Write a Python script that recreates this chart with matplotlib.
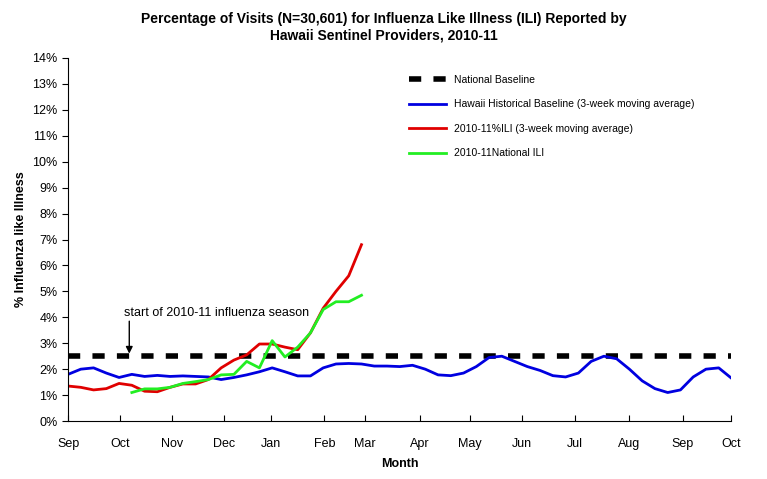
import matplotlib.pyplot as plt
import numpy as np

plt.rcParams['font.family'] = ['Liberation Sans', 'DejaVu Sans']

# weekly values, week 0 = start of Sep 2010
hist_baseline = [1.8, 2.0, 2.05, 1.85, 1.68, 1.8, 1.72, 1.76, 1.72, 1.74, 1.72, 1.7, 1.6,
                 1.68, 1.78, 1.9, 2.05, 1.9, 1.74, 1.74, 2.05, 2.2, 2.22, 2.2, 2.12, 2.12,
                 2.1, 2.15, 2.0, 1.78, 1.75, 1.85, 2.1, 2.45, 2.5, 2.3, 2.1, 1.95, 1.75,
                 1.7, 1.85, 2.3, 2.5, 2.4, 2.0, 1.55, 1.25, 1.1, 1.2, 1.7, 2.0, 2.05, 1.65]
hawaii_ili = [1.35, 1.3, 1.2, 1.25, 1.45, 1.38, 1.15, 1.13, 1.3, 1.43, 1.43, 1.6, 2.05,
              2.35, 2.55, 2.97, 2.97, 2.85, 2.75, 3.4, 4.35, 5.0, 5.6, 6.8]
national_start = 5
national_ili = [1.1, 1.24, 1.24, 1.3, 1.45, 1.52, 1.6, 1.78, 1.8, 2.3, 2.05, 3.1, 2.47,
                2.85, 3.4, 4.3, 4.6, 4.6, 4.85]
national_baseline = 2.5
months = ['Sep', 'Oct', 'Nov', 'Dec', 'Jan', 'Feb', 'Mar', 'Apr', 'May', 'Jun', 'Jul',
          'Aug', 'Sep', 'Oct']
month_pos = [0, 4.07, 8.14, 12.2, 15.9, 20.1, 23.3, 27.6, 31.5, 35.6, 39.7, 44.0, 48.2, 52]

fig = plt.figure(figsize=(7.67, 4.79), dpi=100)
ax = fig.add_axes([0.0887, 0.121, 0.865, 0.758])

ax.plot([0, 52], [national_baseline] * 2, color='black', lw=4, ls=(0, (2.2, 2.2)),
        label='National Baseline')
ax.plot(np.arange(len(hist_baseline)), hist_baseline, color='#0000e0', lw=2,
        label='Hawaii Historical Baseline (3-week moving average)')
ax.plot(np.arange(len(hawaii_ili)), hawaii_ili, color='#e00000', lw=2,
        label='2010-11%ILI (3-week moving average)')
ax.plot(np.arange(len(national_ili)) + national_start, national_ili, color='#22ee22', lw=2,
        label='2010-11National ILI')

ax.set_xlim(0, 52)
ax.set_ylim(0, 14)
ax.set_yticks(range(0, 15))
ax.set_yticklabels([f'{v}%' for v in range(0, 15)], fontsize=9)
ax.set_xticks(month_pos)
ax.set_xticklabels(months, fontsize=9)
ax.tick_params(axis='y', direction='out', length=4)
ax.tick_params(axis='x', direction='in', length=4, pad=12)
ax.spines['top'].set_visible(False)
ax.spines['right'].set_visible(False)

ax.set_xlabel('Month', fontsize=9, fontweight='bold', labelpad=6)
ax.set_ylabel('% Influenza like Illness', fontsize=9, fontweight='bold')
fig.suptitle('Percentage of Visits (N=30,601) for Influenza Like Illness (ILI) Reported by\n'
             'Hawaii Sentinel Providers, 2010-11', fontsize=10, fontweight='bold', y=0.975)

ax.text(4.4, 3.95, 'start of 2010-11 influenza season', fontsize=9, ha='left', va='bottom')
ax.annotate('', xy=(4.8, 2.6), xytext=(4.8, 3.85),
            arrowprops=dict(arrowstyle='-|>', color='black', lw=1, shrinkA=0, shrinkB=0))

ax.legend(loc='upper left', bbox_to_anchor=(0.5, 0.98), frameon=False, fontsize=7.5,
          handlelength=3.5, labelspacing=1.4)

plt.savefig('out.png', dpi=100)
